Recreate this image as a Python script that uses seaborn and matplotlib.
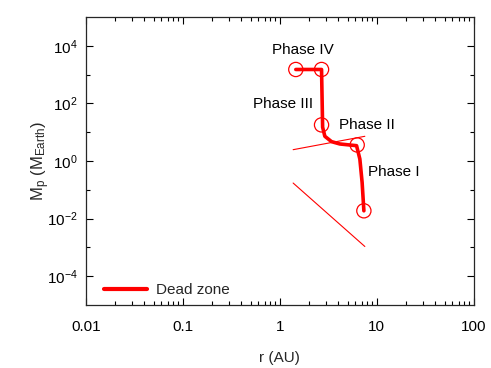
import matplotlib
matplotlib.use('Agg')
import matplotlib.pyplot as plt
import matplotlib.ticker as mticker
import seaborn as sns
import pandas as pd

# planet track (r in AU, M in Earth masses)
track_r = [7.35, 7.05, 6.68, 6.18, 4.15, 3.41, 2.91, 2.76, 2.69, 1.46]
track_m = [0.0187, 0.18, 1.17, 3.4, 3.9, 4.7, 7.2, 14.9, 1500, 1500]

# phase transition markers
mark_r = [7.35, 6.27, 2.69, 2.69, 1.46]
mark_m = [0.0187, 3.6, 17.9, 1500, 1500]

# thin lines
line1_r = [1.37, 7.52]
line1_m = [2.47, 7.2]
line2_r = [1.37, 7.52]
line2_m = [0.172, 0.00108]

phase_labels = ['Phase I', 'Phase II', 'Phase III', 'Phase IV']
phase_r = [14.9, 7.94, 1.07, 1.74]
phase_m = [0.45, 19.4, 104, 7800]

sns.set_style('ticks')
plt.rcParams['font.family'] = ['Liberation Sans', 'DejaVu Sans']
plt.rcParams['mathtext.default'] = 'regular'

fig = plt.figure(figsize=(4.91, 3.68), dpi=100)
ax = fig.add_axes([0.175, 0.171, 0.79, 0.783])

track = pd.DataFrame({'r': track_r, 'm': track_m})
sns.lineplot(data=track, x='r', y='m', sort=False, color='red', linewidth=2.6,
             label='Dead zone', ax=ax)
sns.lineplot(x=line1_r, y=line1_m, color='red', linewidth=0.8, ax=ax)
sns.lineplot(x=line2_r, y=line2_m, color='red', linewidth=0.8, ax=ax)
sns.scatterplot(x=mark_r, y=mark_m, marker='o', s=105, facecolors='none',
                edgecolor='red', linewidth=0.9, ax=ax, zorder=5)

for lab, xr, ym in zip(phase_labels, phase_r, phase_m):
    ax.text(xr, ym, lab, fontsize=11, ha='center', va='center_baseline', color='black')

ax.set_xscale('log')
ax.set_yscale('log')
ax.set_xlim(0.01, 100)
ax.set_ylim(1e-5, 1e5)

ax.set_xticks([0.01, 0.1, 1, 10, 100])
ax.xaxis.set_major_formatter(mticker.FuncFormatter(lambda v, p: '%g' % v))
ax.xaxis.set_minor_locator(mticker.LogLocator(base=10, subs=range(2, 10), numticks=20))
ax.set_yticks([1e-4, 1e-2, 1, 1e2, 1e4])
ax.yaxis.set_major_formatter(mticker.LogFormatterMathtext())
ax.yaxis.set_minor_locator(mticker.FixedLocator([1e-3, 1e-1, 10, 1e3]))
ax.yaxis.set_minor_formatter(mticker.NullFormatter())

ax.tick_params(which='both', direction='in', top=True, right=True, labelsize=11, colors='black')
ax.tick_params(axis='x', which='major', length=5, width=0.8, pad=11)
ax.tick_params(axis='y', which='major', length=5, width=0.8, pad=6)
ax.tick_params(which='minor', length=3, width=0.8)
for s in ax.spines.values():
    s.set_linewidth(0.9)

ax.set_xlabel('r (AU)', fontsize=11, labelpad=12)
ax.set_ylabel('$M_p$ $(M_{Earth})$', fontsize=12)
ax.yaxis.set_label_coords(-0.088, 0.5)

leg = ax.legend(loc='lower left', frameon=False, fontsize=11, handlelength=2.8,
                handletextpad=0.6, borderaxespad=0.1,
                bbox_to_anchor=(0.027, 0.0))
for h in leg.get_lines():
    h.set_linewidth(3)

plt.savefig('out.png', dpi=100)
plt.close()
